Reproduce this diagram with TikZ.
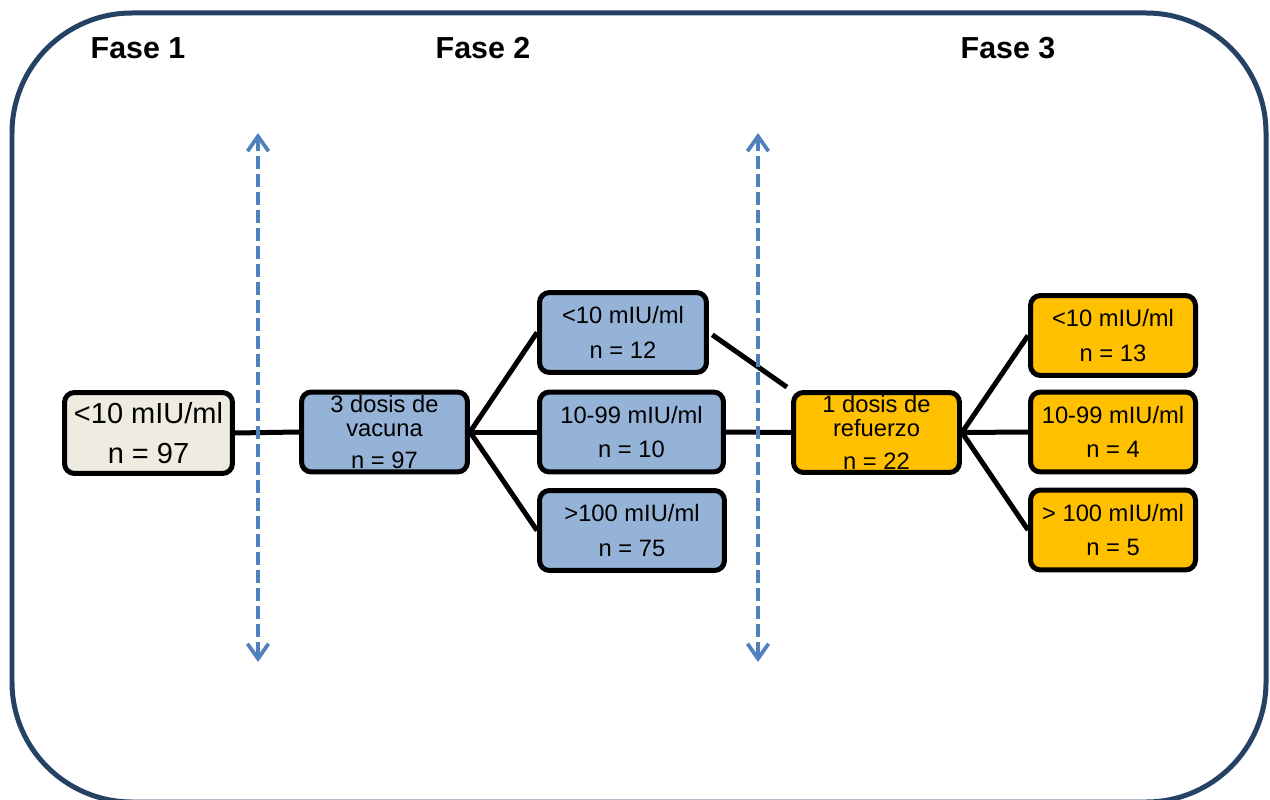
\documentclass[tikz,border=0pt]{standalone}
\usepackage{fontspec}
\setmainfont{Liberation Sans}
\usetikzlibrary{arrows.meta}
\definecolor{framecol}{HTML}{254264}
\definecolor{divcol}{HTML}{4F81BD}
\definecolor{beigefill}{HTML}{EEECE1}
\definecolor{bluefill}{HTML}{95B3D7}
\definecolor{orangefill}{HTML}{FFC000}
\begin{document}
\begin{tikzpicture}[x=0.02cm,y=-0.02cm,
  box/.style={draw=black, line width=0.1cm, rounded corners=0.2cm, align=center,
    inner sep=0pt, font=\fontsize{13.5}{19.8}\selectfont},
  tightbox/.style={box, font=\fontsize{13.5}{13.6}\selectfont},
  bigbox/.style={box, font=\fontsize{16.5}{22.7}\selectfont},
  stdsize/.style={minimum width=3.34cm, minimum height=1.6cm},
  link/.style={draw=black, line width=0.1cm},
  phase/.style={font=\fontsize{17.3}{20}\selectfont\bfseries},
  divider/.style={draw=divcol, line width=0.075cm, dash pattern=on 0.26cm off 0.1cm,
    {Straight Barb[length=0.3cm,width=0.42cm]}-{Straight Barb[length=0.3cm,width=0.42cm]}}
]
\clip (0,0) rectangle (1270,800);

% outer frame
\draw[framecol, line width=0.1cm, rounded corners=2.4cm] (12,13) rectangle (1266,802);

% phase headings
\node[phase] (f1) at (138,48) {Fase 1};
\node[phase] (f2) at (483,48) {Fase 2};
\node[phase] (f3) at (1008,48) {Fase 3};

% phase 1
\node[bigbox, fill=beigefill, minimum width=3.36cm, minimum height=1.62cm] (A) at (148.5,433)
  {<10 mIU/ml\\n = 97};

% phase 2
\node[tightbox, fill=bluefill, stdsize, minimum width=3.32cm] (B) at (384.5,432)
  {3 dosis de\\vacuna\\[5pt]n = 97};
\node[box, fill=bluefill, stdsize] (C1) at (623,332.5) {<10 mIU/ml\\n = 12};
\node[box, fill=bluefill, stdsize, minimum width=3.68cm] (C2) at (631.5,432) {10-99 mIU/ml\\n = 10};
\node[box, fill=bluefill, stdsize, minimum width=3.7cm] (C3) at (632,530.5) {>100 mIU/ml\\n = 75};

% phase 3
\node[tightbox, fill=orangefill, stdsize, minimum width=3.32cm] (D) at (876.5,432.5)
  {1 dosis de\\refuerzo\\[5pt]n = 22};
\node[box, fill=orangefill, stdsize, minimum width=3.3cm] (E1) at (1113,335.5) {<10 mIU/ml\\n = 13};
\node[box, fill=orangefill, stdsize, minimum width=3.3cm] (E2) at (1113,432) {10-99 mIU/ml\\n = 4};
\node[box, fill=orangefill, stdsize, minimum width=3.3cm] (E3) at (1113,530) {> 100 mIU/ml\\n = 5};

% connectors
\draw[link] (A.east) -- (B.west);
\draw[link] (B.east) -- (C1.west);
\draw[link] (B.east) -- (C2.west);
\draw[link] (B.east) -- (C3.west);
\draw[link, shorten <=0.08cm, shorten >=0.1cm] (C1.east) -- (D.north west);
\draw[link] (C2.east) -- (D.west);
\draw[link] (D.east) -- (E1.west);
\draw[link] (D.east) -- (E2.west);
\draw[link] (D.east) -- (E3.west);

% phase dividers
\coordinate (t1) at (258,133);
\coordinate (b1) at (258,662);
\coordinate (t2) at (758,133);
\coordinate (b2) at (758,662);
\draw[divider] (t1) -- (b1);
\draw[divider] (t2) -- (b2);
\end{tikzpicture}
\end{document}
